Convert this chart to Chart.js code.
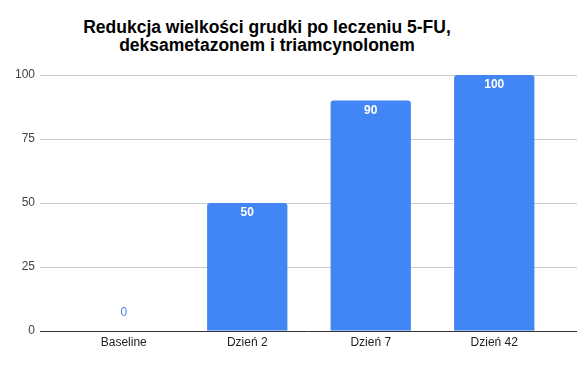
<!DOCTYPE html>
<html>
<head>
<meta charset="utf-8">
<script src="https://cdn.jsdelivr.net/npm/chart.js@4/dist/chart.umd.min.js"></script>
<style>
  html, body { margin: 0; padding: 0; background: #fff; }
  #wrap { position: relative; width: 588px; height: 365px; }
  #title {
    position: absolute; left: 0; top: 18px; width: 534px;
    text-align: center; font: bold 17.5px "Liberation Sans", Arial, sans-serif;
    line-height: 18px; color: #000;
  }
  canvas { position: absolute; left: 0; top: 0; }
</style>
</head>
<body>
<div id="wrap">
  <div id="title">Redukcja wielkości grudki po leczeniu 5-FU,<br>deksametazonem i triamcynolonem</div>
  <canvas id="chart" width="588" height="365"></canvas>
</div>
<script>
const categories = ['Baseline', 'Dzień 2', 'Dzień 7', 'Dzień 42'];
const values = [0, 50, 90, 100];
const yTicks = [0, 25, 50, 75, 100];

const barColor = '#4285f4';
const font = '"Liberation Sans", Arial, sans-serif';

// horizontal gridlines that run a bit past the plot area, like the sheets chart
const gridPlugin = {
  id: 'wideGrid',
  beforeDatasetsDraw(chart) {
    const ctx = chart.ctx;
    const y = chart.scales.y;
    const area = chart.chartArea;
    const x0 = area.left - 22, x1 = area.right + 21;
    ctx.save();
    y.ticks.forEach(t => {
      const py = Math.round(y.getPixelForValue(t.value)) + 0.5;
      ctx.strokeStyle = t.value === 0 ? '#333333' : '#cccccc';
      ctx.lineWidth = 1;
      ctx.beginPath();
      ctx.moveTo(x0, py);
      ctx.lineTo(x1, py);
      ctx.stroke();
    });
    ctx.restore();
  }
};

const labelPlugin = {
  id: 'barLabels',
  afterDatasetsDraw(chart) {
    const ctx = chart.ctx;
    const meta = chart.getDatasetMeta(0);
    ctx.save();
    ctx.textAlign = 'center';
    ctx.textBaseline = 'middle';
    meta.data.forEach((bar, i) => {
      const v = values[i];
      if (v > 0) {
        ctx.fillStyle = '#ffffff';
        ctx.font = 'bold 12px ' + font;
        ctx.fillText(String(v), bar.x, bar.y + 10);
      } else {
        ctx.fillStyle = '#4a86e8';
        ctx.font = '12px ' + font;
        ctx.fillText(String(v), bar.x, bar.y - 18);
      }
    });
    ctx.restore();
  }
};

new Chart(document.getElementById('chart'), {
  type: 'bar',
  data: {
    labels: categories,
    datasets: [{
      data: values,
      backgroundColor: barColor,
      borderRadius: { topLeft: 3, topRight: 3 },
      borderSkipped: 'bottom',
      barPercentage: 0.65,
      categoryPercentage: 1
    }]
  },
  options: {
    responsive: false,
    animation: false,
    layout: { padding: { left: 15, right: 32, top: 75, bottom: 5 } },
    plugins: {
      legend: { display: false },
      tooltip: { enabled: false }
    },
    scales: {
      x: {
        grid: { display: false, drawTicks: false },
        border: { display: false },
        ticks: { color: '#222222', font: { family: font, size: 12 }, padding: 5 }
      },
      y: {
        min: 0,
        max: 100,
        afterBuildTicks(scale) { scale.ticks = yTicks.map(v => ({ value: v })); },
        afterFit(scale) { scale.width = 47; },
        grid: { display: false, drawTicks: false },
        border: { display: false },
        ticks: { color: '#444444', font: { family: font, size: 12 }, padding: 27 }
      }
    }
  },
  plugins: [gridPlugin, labelPlugin]
});
</script>
</body>
</html>
